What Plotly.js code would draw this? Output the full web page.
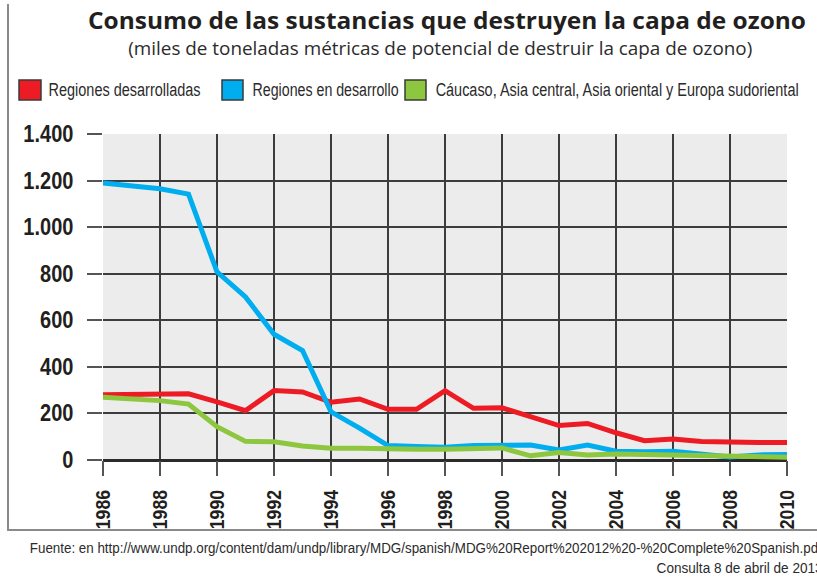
<!DOCTYPE html>
<html>
<head>
<meta charset="utf-8">
<script src="https://cdn.plot.ly/plotly-3.0.1.min.js"></script>
<style>
  html, body { margin: 0; padding: 0; background: #fff; }
  #wrap { position: relative; width: 817px; height: 578px; overflow: hidden; }
  #chart { position: absolute; left: 0; top: 0; width: 817px; height: 578px; }
  #frame { position: absolute; left: 7px; top: 4px; width: 820px; height: 525px;
           border-left: 2px solid #8a8a8a; border-bottom: 2px solid #8a8a8a; pointer-events: none; }
</style>
</head>
<body>
<div id="wrap">
  <div id="chart"></div>
  <div id="frame"></div>
</div>
<script>
// ---- Data ----
const years = [1986,1987,1988,1989,1990,1991,1992,1993,1994,1995,1996,1997,1998,1999,2000,2001,2002,2003,2004,2005,2006,2007,2008,2009,2010];
const desarrolladas = [280,280,280,284,250,212,298,292,248,262,218,218,298,222,224,186,148,157,117,83,90,79,75,75,75];
const enDesarrollo = [1190,1178,1165,1142,808,700,540,470,207,137,62,58,55,62,64,64,43,64,38,35,38,28,13,22,24];
const caucasoAsia = [270,262,255,240,143,80,78,60,50,50,46,46,46,48,52,18,32,22,26,24,22,18,16,13,12];

const seriesNames = ["Regiones desarrolladas", "Regiones en desarrollo", "Cáucaso, Asia central, Asia oriental y Europa sudoriental"];
const seriesColors = ["#ed1c24", "#00aeef", "#8dc63f"];

const yTickVals = [0,200,400,600,800,1000,1200,1400];
const yTickText = ["0","200","400","600","800","1.000","1.200","1.400"];
const xTickVals = [1986,1988,1990,1992,1994,1996,1998,2000,2002,2004,2006,2008,2010];
const xTickText = ["1986","1988","1990","1992","1994","1996","1998","2000","2002","2004","2006","2008","2010"];

const titleText = "Consumo de las sustancias que destruyen la capa de ozono";
const subtitleText = "(miles de toneladas métricas de potencial de destruir la capa de ozono)";
const sourceText = "Fuente: en http://www.undp.org/content/dam/undp/library/MDG/spanish/MDG%20Report%202012%20-%20Complete%20Spanish.pdf";
const consultText = "Consulta 8 de abril de 2013";

// ---- Layout helpers (pixel -> paper) ----
const M = {l: 103, r: 30, t: 134, b: 118};
const W = 817, H = 578;
const PW = W - M.l - M.r, PH = H - M.t - M.b;
const px = x => (x - M.l) / PW;
const py = y => (H - M.b - y) / PH;

const SANS = "'Liberation Sans', Arial, sans-serif";
const TITLEFONT = "'Open Sans', sans-serif";

const seriesData = [desarrolladas, enDesarrollo, caucasoAsia];
const traces = seriesData.map((vals, i) => ({
  type: 'scatter', mode: 'lines', x: years, y: vals, name: seriesNames[i],
  line: {color: seriesColors[i], width: 5, shape: 'linear'},
  showlegend: false, hoverinfo: 'skip'
}));

// legend drawn as squares + text; texts are centred and squeezed to the reference width
const legendBoxes = [[19,41],[222,243],[405,426]];
const legendTextSpan = [[48,152],[252,146],[435,363]];
const shapes = [];
const annotations = [];
const squeezeTargets = []; // [annotationIndex, width]
legendBoxes.forEach((b, i) => {
  shapes.push({type: 'rect', xref: 'paper', yref: 'paper',
    x0: px(b[0]), x1: px(b[1]), y0: py(100), y1: py(80),
    fillcolor: seriesColors[i], line: {color: '#3a3a3a', width: 1.5}});
  const s = legendTextSpan[i];
  squeezeTargets.push([annotations.length, s[1]]);
  annotations.push({xref: 'paper', yref: 'paper', x: px(s[0] + s[1] / 2), y: py(90),
    xanchor: 'center', yanchor: 'middle', showarrow: false, text: seriesNames[i],
    font: {family: SANS, size: 18, color: '#2b2b2b'}});
});

squeezeTargets.push([annotations.length, 624]);
annotations.push({xref: 'paper', yref: 'paper', x: px(440), y: py(48), xanchor: 'center', yanchor: 'middle',
  showarrow: false, text: subtitleText, font: {family: TITLEFONT, size: 19, color: '#2b2b2b'}});
squeezeTargets.push([annotations.length, 792]);
annotations.push({xref: 'paper', yref: 'paper', x: px(30 + 396), y: py(548), xanchor: 'center', yanchor: 'middle',
  showarrow: false, text: sourceText, font: {family: SANS, size: 14, color: '#2b2b2b'}});
squeezeTargets.push([annotations.length, 166]);
annotations.push({xref: 'paper', yref: 'paper', x: px(822 - 83), y: py(568), xanchor: 'center', yanchor: 'middle',
  showarrow: false, text: consultText, font: {family: SANS, size: 14, color: '#2b2b2b'}});

const layout = {
  width: W, height: H,
  margin: M,
  paper_bgcolor: '#ffffff',
  plot_bgcolor: '#ececec',
  showlegend: false,
  title: {text: titleText, xref: 'container', yref: 'container',
    x: 447 / W, y: 1 - 21 / H, xanchor: 'center', yanchor: 'middle',
    font: {family: TITLEFONT, size: 24, color: '#231f20', weight: 'bold'}},
  xaxis: {
    range: [1986, 2010], tickmode: 'array', tickvals: xTickVals, ticktext: xTickText,
    tickangle: -90, ticks: 'outside', ticklen: 15, tickwidth: 2, tickcolor: '#555',
    showgrid: true, gridcolor: '#3c3c3c', gridwidth: 2,
    zeroline: false, showline: false, fixedrange: true,
    tickfont: {family: SANS, size: 20, color: '#231f20', weight: 'bold'},
    ticklabelstandoff: 6
  },
  yaxis: {
    range: [0, 1400], tickmode: 'array', tickvals: yTickVals, ticktext: yTickText,
    ticks: 'outside', ticklen: 15, tickwidth: 2, tickcolor: '#555',
    showgrid: true, gridcolor: '#3c3c3c', gridwidth: 2,
    zeroline: true, zerolinecolor: '#2a2a2a', zerolinewidth: 3,
    showline: false, fixedrange: true,
    tickfont: {family: SANS, size: 23, color: '#231f20', weight: 'bold'},
    ticklabelstandoff: 9
  },
  shapes: shapes,
  annotations: annotations
};

function squeeze(el, width) {
  if (!el) return;
  el.setAttribute('textLength', width.toFixed(1));
  el.setAttribute('lengthAdjust', 'spacingAndGlyphs');
}
function scaleText(el, f) {
  if (!el) return;
  const n = el.getComputedTextLength();
  squeeze(el, n * f);
}

Plotly.newPlot('chart', traces, layout, {staticPlot: true, displayModeBar: false}).then(gd => {
  // condensed look: squeeze texts horizontally along their baseline
  squeeze(gd.querySelector('.gtitle'), 718);
  const annTexts = gd.querySelectorAll('.annotation-text');
  squeezeTargets.forEach(([idx, w]) => squeeze(annTexts[idx], w));
  gd.querySelectorAll('.xtick text').forEach(t => scaleText(t, 0.88));
  gd.querySelectorAll('.ytick text').forEach(t => scaleText(t, 0.87));
});
</script>
</body>
</html>
